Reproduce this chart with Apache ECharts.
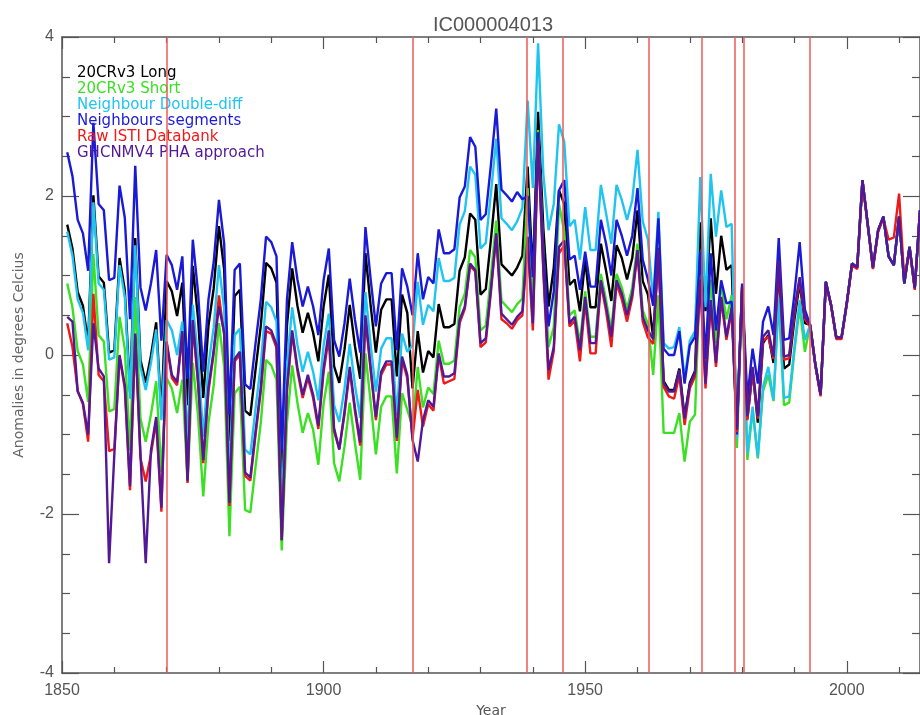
<!DOCTYPE html>
<html>
<head>
<meta charset="utf-8">
<title>IC000004013</title>
<script src="https://cdn.jsdelivr.net/npm/echarts@6/dist/echarts.min.js"></script>
<style>
html, body { margin: 0; padding: 0; background: #fff; }
#chart { width: 920px; height: 715px; }
</style>
</head>
<body>
<div id="chart"></div>
<script>
// annual anomalies, 1851 .. 2014
var firstYear = 1851;

var long20cr = [
    1.64, 1.34, 0.79, 0.62, 0.15, 2.01, 0.99, 0.91, 0.03, 0.06,
    1.22, 0.82, -0.46, 1.47, -0.06, -0.35, -0.01, 0.41, -0.73, 0.93,
    0.80, 0.49, 0.91, -0.63, 1.12, 0.46, -0.54, 0.37, 0.84, 1.62,
    1.07, -1.08, 0.74, 0.82, -0.70, -0.76, -0.18, 0.37, 1.16, 1.09,
    0.91, -1.55, 0.37, 1.09, 0.62, 0.28, 0.53, 0.28, -0.08, 0.61,
    1.01, -0.14, -0.35, 0.07, 0.63, 0.11, -0.30, 1.28, 0.62, 0.03,
    0.57, 0.70, 0.70, -0.27, 0.76, 0.53, -0.42, 0.30, -0.22, 0.05,
    -0.03, 0.64, 0.35, 0.35, 0.39, 1.06, 1.23, 1.78, 1.70, 0.76,
    0.83, 1.46, 2.15, 1.14, 1.07, 1.00, 1.10, 1.25, 2.37, 1.00,
    3.06, 1.60, 0.61, 1.10, 2.07, 1.90, 0.88, 0.95, 0.55, 1.20,
    0.60, 0.60, 1.40, 1.06, 0.68, 1.38, 1.22, 0.95, 1.22, 1.82,
    0.93, 0.76, 0.22, 1.35, -0.33, -0.44, -0.44, -0.17, -0.78, -0.35,
    -0.20, 1.67, 0.55, 1.72, 0.77, 1.50, 1.07, 1.13, -0.92, 0.86,
    -0.80, -0.20, -0.85, 0.15, 0.25, -0.10, 1.10, -0.17, -0.12, 0.45,
    0.90, 0.40, 0.38, -0.12, -0.50, 0.92, 0.63, 0.22, 0.22, 0.65,
    1.15, 1.10, 2.20, 1.65, 1.10, 1.57, 1.74, 1.24, 1.13, 1.74,
    0.90, 1.36, 0.84, 1.82
];

var short20cr = [
    0.90, 0.60, 0.05, -0.12, -0.59, 1.27, 0.25, 0.17, -0.71, -0.68,
    0.48, 0.08, -1.20, 0.73, -0.80, -1.09, -0.75, -0.33, -1.47, -0.29,
    -0.42, -0.73, -0.31, -1.60, -0.10, -0.76, -1.78, -0.85, -0.38, 0.40,
    -0.15, -2.28, -0.48, -0.40, -1.95, -1.98, -1.40, -0.85, -0.06, -0.13,
    -0.31, -2.46, -0.85, -0.13, -0.60, -0.98, -0.73, -0.94, -1.38, -0.61,
    -0.21, -1.36, -1.59, -1.15, -0.60, -1.11, -1.57, 0.02, -0.60, -1.25,
    -0.65, -0.52, -0.52, -1.49, -0.48, -0.69, -0.90, -0.15, -0.66, -0.41,
    -0.49, 0.18, -0.11, -0.11, -0.07, 0.60, 0.77, 1.32, 1.23, 0.31,
    0.37, 1.00, 1.69, 0.68, 0.61, 0.54, 0.64, 0.71, 2.10, 0.60,
    2.83, 1.30, 0.10, 0.35, 1.90, 1.55, 0.50, 0.56, 0.14, 0.80,
    0.23, 0.23, 1.02, 0.69, 0.31, 1.02, 0.85, 0.58, 0.85, 1.40,
    0.56, 0.39, -0.25, 0.75, -0.98, -0.98, -0.98, -0.73, -1.34, -0.84,
    -0.75, 1.10, -0.20, 0.95, 0.15, 0.90, 0.45, 0.75, -1.17, 0.82,
    -1.32, -0.70, -1.30, -0.45, -0.25, -0.58, 0.70, -0.63, -0.60, 0.05,
    0.60, 0.04, 0.38, -0.12, -0.50, 0.92, 0.63, 0.22, 0.22, 0.65,
    1.15, 1.10, 2.20, 1.65, 1.10, 1.57, 1.74, 1.24, 1.13, 1.74,
    0.90, 1.36, 0.84, 1.82
];

var doubleDiff = [
    1.55, 1.25, 0.70, 0.53, 0.06, 1.92, 0.90, 0.82, -0.06, -0.03,
    1.13, 0.73, -0.55, 1.38, -0.15, -0.44, -0.10, 0.32, -0.82, 0.44,
    0.31, 0.00, 0.42, -1.12, 0.63, -0.03, -1.03, -0.12, 0.35, 1.13,
    0.58, -1.57, 0.25, 0.33, -1.19, -1.25, -0.67, -0.12, 0.67, 0.60,
    0.42, -2.00, -0.12, 0.60, 0.13, -0.21, 0.04, -0.21, -0.57, 0.12,
    0.52, -0.63, -0.84, -0.42, 0.14, -0.38, -0.79, 0.79, 0.13, -0.46,
    0.08, 0.21, 0.21, -0.76, 0.27, 0.04, 0.12, 0.92, 0.38, 0.63,
    0.55, 1.22, 0.93, 0.93, 0.97, 1.64, 1.81, 2.37, 2.27, 1.34,
    1.41, 2.04, 2.72, 1.72, 1.65, 1.57, 1.68, 1.85, 3.20, 2.10,
    3.92, 2.28, 1.57, 1.90, 2.90, 2.68, 1.62, 1.70, 1.20, 1.86,
    1.32, 1.32, 2.14, 1.78, 1.40, 2.14, 1.95, 1.70, 1.95, 2.58,
    1.68, 1.45, 0.68, 1.80, 0.15, 0.08, 0.10, 0.35, -0.30, 0.18,
    0.30, 2.24, 0.60, 2.28, 1.49, 2.07, 1.61, 1.65, -1.05, 0.85,
    -1.24, -0.65, -1.28, -0.40, -0.15, -0.56, 0.73, -0.54, -0.52, 0.10,
    0.69, 0.19, 0.38, -0.12, -0.50, 0.92, 0.63, 0.22, 0.22, 0.65,
    1.15, 1.10, 2.20, 1.65, 1.10, 1.57, 1.74, 1.24, 1.13, 1.74,
    0.90, 1.36, 0.84, 1.82
];

var segments = [
    2.55, 2.25, 1.70, 1.53, 1.06, 2.92, 1.90, 1.82, 0.94, 0.97,
    2.13, 1.73, 0.45, 2.38, 0.85, 0.56, 0.90, 1.32, 0.18, 1.26,
    1.13, 0.82, 1.24, -0.30, 1.45, 0.79, -0.21, 0.70, 1.17, 1.95,
    1.40, -0.75, 1.07, 1.15, -0.37, -0.43, 0.15, 0.70, 1.49, 1.42,
    1.24, -1.20, 0.70, 1.42, 0.95, 0.61, 0.86, 0.61, 0.25, 0.94,
    1.34, 0.19, -0.02, 0.40, 0.96, 0.44, 0.03, 1.61, 0.95, 0.36,
    0.90, 1.03, 1.03, 0.06, 1.09, 0.86, 0.50, 1.28, 0.70, 0.98,
    0.90, 1.58, 1.28, 1.28, 1.33, 1.98, 2.12, 2.74, 2.62, 1.70,
    1.77, 2.40, 3.10, 2.08, 2.01, 1.93, 2.05, 1.96, 2.00, 0.98,
    2.80, 1.30, 0.36, 0.80, 2.07, 2.20, 1.20, 1.25, 0.82, 1.30,
    0.86, 0.86, 1.70, 1.40, 1.00, 1.70, 1.50, 1.25, 1.50, 2.10,
    1.20, 0.95, 0.62, 1.72, 0.08, 0.00, 0.00, 0.30, -0.36, 0.12,
    0.23, 1.30, -0.05, 1.28, 0.31, 0.94, 0.65, 0.67, -1.00, 0.90,
    -0.55, 0.08, -0.36, 0.42, 0.61, 0.25, 1.47, 0.19, 0.21, 0.77,
    1.42, 0.57, 0.38, -0.12, -0.50, 0.92, 0.63, 0.22, 0.22, 0.65,
    1.15, 1.10, 2.20, 1.65, 1.10, 1.57, 1.74, 1.24, 1.13, 1.74,
    0.90, 1.36, 0.84, 1.82
];

var rawIsti = [
    0.40, 0.10, -0.45, -0.62, -1.09, 0.77, -0.25, -0.33, -1.21, -1.18,
    -0.02, -0.42, -1.70, 0.23, -1.30, -1.59, -1.25, -0.83, -1.97, 0.15,
    -0.29, -0.38, 0.27, -1.61, 0.40, -0.36, -1.36, -0.45, 0.02, 0.75,
    0.25, -1.90, -0.08, 0.00, -1.52, -1.58, -1.00, -0.45, 0.30, 0.27,
    0.09, -2.33, -0.45, 0.27, -0.20, -0.54, -0.29, -0.54, -0.93, -0.21,
    0.22, -0.96, -1.18, -0.75, -0.19, -0.71, -1.14, 0.46, -0.20, -0.82,
    -0.25, -0.12, -0.12, -1.08, -0.06, -0.29, -1.05, -0.44, -0.90, -0.62,
    -0.70, 0.00, -0.36, -0.33, -0.30, 0.40, 0.58, 1.12, 1.05, 0.10,
    0.16, 0.80, 1.50, 0.45, 0.40, 0.33, 0.44, 0.50, 1.42, 0.31,
    2.65, 1.05, -0.31, 0.05, 1.28, 1.38, 0.36, 0.43, -0.08, 0.68,
    0.02, 0.02, 0.90, 0.55, 0.10, 0.90, 0.70, 0.42, 0.72, 1.28,
    0.42, 0.22, 0.14, 1.28, -0.40, -0.52, -0.55, -0.25, -0.88, -0.42,
    -0.27, 0.92, -0.42, 0.65, -0.15, 0.70, 0.19, 0.55, -0.97, 0.84,
    -0.82, -0.20, -0.80, 0.18, 0.23, -0.05, 1.15, -0.06, -0.04, 0.52,
    0.95, 0.45, 0.36, -0.14, -0.52, 0.90, 0.62, 0.20, 0.20, 0.63,
    1.13, 1.08, 2.18, 1.63, 1.08, 1.55, 1.72, 1.45, 1.48, 2.03,
    0.95, 1.34, 0.82, 1.80
];

var ghcnPha = [
    0.48, 0.42, -0.46, -0.60, -1.00, 0.40, -0.17, -0.27, -2.62, -1.25,
    0.00, -0.38, -1.65, 0.27, -1.25, -2.62, -1.20, -0.78, -1.92, 0.17,
    -0.25, -0.34, 0.30, -1.58, 0.44, -0.32, -1.32, -0.41, 0.06, 0.61,
    0.28, -1.86, -0.05, 0.04, -1.48, -1.54, -0.96, -0.41, 0.36, 0.31,
    0.13, -2.33, -0.41, 0.31, -0.16, -0.50, -0.25, -0.50, -0.89, -0.17,
    0.31, -0.92, -1.19, -0.71, -0.15, -0.67, -1.10, 0.50, -0.16, -0.78,
    -0.21, -0.08, -0.08, -1.04, -0.02, -0.25, -1.07, -1.34, -0.82, -0.57,
    -0.65, 0.02, -0.27, -0.27, -0.23, 0.44, 0.61, 1.15, 1.07, 0.15,
    0.21, 0.84, 1.53, 0.52, 0.45, 0.38, 0.48, 0.55, 1.49, 0.40,
    2.70, 1.10, -0.19, 0.10, 1.36, 1.44, 0.40, 0.48, 0.06, 0.73,
    0.15, 0.15, 0.94, 0.61, 0.23, 0.94, 0.77, 0.50, 0.77, 1.32,
    0.48, 0.31, 0.20, 1.33, -0.35, -0.46, -0.46, -0.19, -0.80, -0.37,
    -0.22, 0.95, -0.36, 0.69, -0.10, 0.73, 0.23, 0.60, -0.94, 0.86,
    -0.77, -0.15, -0.77, 0.23, 0.31, -0.02, 1.19, -0.02, 0.00, 0.57,
    0.98, 0.48, 0.38, -0.12, -0.50, 0.92, 0.63, 0.22, 0.22, 0.65,
    1.15, 1.10, 2.20, 1.65, 1.10, 1.57, 1.74, 1.24, 1.13, 1.74,
    0.90, 1.36, 0.84, 1.82
];

// detected break points (red verticals)
var breakYears = [1869.95, 1917.05, 1938.9, 1945.8, 1962.2, 1972.2, 1978.6, 1980.3, 1992.9];

var xMajorTicks = [1850, 1900, 1950, 2000];
var xMinorTicks = [1860, 1870, 1880, 1890, 1910, 1920, 1930, 1940, 1960, 1970, 1980, 1990, 2010];

var seriesNames = ['20CRv3 Long', '20CRv3 Short', 'Neighbour Double-diff',
    'Neighbours segments', 'Raw ISTI Databank', 'GHCNMV4 PHA approach'];
var seriesValues = [long20cr, short20cr, doubleDiff, segments, rawIsti, ghcnPha];
var seriesColors = ['#000000', '#3be024', '#20c4f0', '#1a1ad6', '#ee1a1a', '#521896'];

var axisColor = '#555';
var tickFont = 'Liberation Sans';

function pairs(values) {
    return values.map(function (v, i) { return [firstYear + i, v]; });
}

function xAxisDef(pos, major) {
    return {
        type: 'value', position: pos, min: 1850, max: 2014,
        interval: major ? 50 : 10,
        axisLine: { show: major, onZero: false, lineStyle: { color: axisColor, width: 1.5 } },
        axisTick: {
            inside: true, length: major ? 12 : 6,
            customValues: major ? xMajorTicks : xMinorTicks,
            lineStyle: { color: axisColor, width: 1.2 }
        },
        axisLabel: (pos === 'bottom' && major) ? {
            customValues: xMajorTicks, margin: 10,
            fontFamily: tickFont, fontSize: 16, color: axisColor,
            formatter: function (v) { return String(v); }
        } : { show: false },
        splitLine: { show: false }
    };
}

function yAxisDef(pos) {
    return {
        type: 'value', position: pos, min: -4, max: 4, interval: 2,
        axisLine: { show: true, onZero: false, lineStyle: { color: axisColor, width: 1.5 } },
        axisTick: { inside: true, length: 17, lineStyle: { color: axisColor, width: 1.2 } },
        minorTick: { show: true, splitNumber: 4, length: 8, lineStyle: { color: axisColor, width: 1.2 } },
        axisLabel: pos === 'left' ? {
            margin: 8, fontFamily: tickFont, fontSize: 16, color: axisColor
        } : { show: false },
        splitLine: { show: false }
    };
}

var chart = echarts.init(document.getElementById('chart'));

var xBottom = xAxisDef('bottom', true);
xBottom.name = 'Year';
xBottom.nameLocation = 'middle';
xBottom.nameGap = 29;
xBottom.nameTextStyle = { fontFamily: 'DejaVu Sans', fontSize: 14, color: '#555' };

var yLeft = yAxisDef('left');
yLeft.name = 'Anomalies in degrees Celcius';
yLeft.nameLocation = 'middle';
yLeft.nameRotate = 90;
yLeft.nameGap = 36;
yLeft.nameTextStyle = { fontFamily: 'DejaVu Sans', fontSize: 14, color: '#666' };

var series = [{
    name: 'breaks', type: 'line', data: [], z: 1, silent: true,
    markLine: {
        silent: true, symbol: ['none', 'none'], label: { show: false },
        emphasis: { disabled: true },
        lineStyle: { color: '#ee5a5a', width: 1.5, type: 'solid' },
        data: breakYears.map(function (y) { return { xAxis: y }; })
    }
}];

seriesNames.forEach(function (n, i) {
    series.push({
        name: n, type: 'line', data: pairs(seriesValues[i]),
        symbol: 'none', showSymbol: false, z: 3, silent: true,
        lineStyle: { color: seriesColors[i], width: 2.4 },
        itemStyle: { color: seriesColors[i] }
    });
});

chart.setOption({
    animation: false,
    backgroundColor: '#ffffff',
    title: {
        text: 'IC000004013', left: 428, top: 10,
        textStyle: { fontFamily: 'Liberation Sans', fontSize: 20, fontWeight: 'normal', color: '#555' }
    },
    legend: {
        orient: 'vertical', left: 67, top: 60,
        icon: 'rect', itemWidth: 0, itemHeight: 0, itemGap: 0,
        selectedMode: false,
        textStyle: { fontFamily: 'DejaVu Sans', fontSize: 15, lineHeight: 16 },
        data: seriesNames.map(function (n, i) {
            return { name: n, textStyle: { color: seriesColors[i] } };
        })
    },
    grid: { left: 62, right: 0, top: 37, bottom: 42, outerBoundsMode: 'none', containLabel: false },
    xAxis: [xBottom, xAxisDef('bottom', false), xAxisDef('top', true), xAxisDef('top', false)],
    yAxis: [yLeft, yAxisDef('right')],
    series: series
});
</script>
</body>
</html>
